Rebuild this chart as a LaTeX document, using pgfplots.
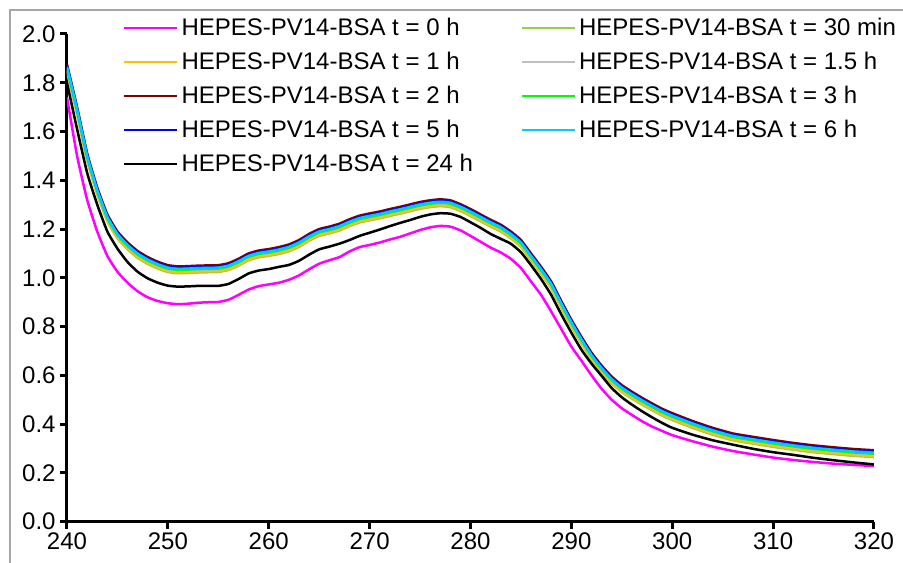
\documentclass[border=0pt]{standalone}
\usepackage{fontspec}
\setmainfont{Liberation Sans}
\usepackage{pgfplots}
\usepackage{pgfplotstable}
\pgfplotsset{compat=1.18}
\definecolor{cM}{HTML}{FF00FF}
\definecolor{cA}{HTML}{92D050}
\definecolor{cB}{HTML}{FFC000}
\definecolor{cC}{HTML}{C0C0C0}
\definecolor{cD}{HTML}{800000}
\definecolor{cE}{HTML}{00FF00}
\definecolor{cF}{HTML}{0000FF}
\definecolor{cG}{HTML}{00CCFF}
\definecolor{bordergray}{HTML}{A6A6A6}

\pgfplotstableread{
x M m30 h1 h15 h2 h3 h5 h6 K
240 1.740 1.847 1.851 1.859 1.875 1.861 1.869 1.865 1.800
241 1.500 1.672 1.676 1.684 1.700 1.686 1.694 1.690 1.610
242 1.320 1.482 1.486 1.494 1.510 1.496 1.504 1.500 1.430
243 1.190 1.342 1.346 1.354 1.370 1.356 1.364 1.360 1.300
244 1.090 1.232 1.236 1.244 1.260 1.246 1.254 1.250 1.190
245 1.025 1.162 1.166 1.174 1.190 1.176 1.184 1.180 1.120
246 0.980 1.117 1.121 1.129 1.145 1.131 1.139 1.135 1.065
247 0.945 1.082 1.086 1.094 1.110 1.096 1.104 1.100 1.025
248 0.920 1.057 1.061 1.069 1.085 1.071 1.079 1.075 0.998
249 0.905 1.038 1.042 1.050 1.066 1.052 1.060 1.056 0.980
250 0.896 1.024 1.028 1.036 1.052 1.038 1.046 1.042 0.968
251 0.892 1.019 1.023 1.031 1.047 1.033 1.041 1.037 0.964
252 0.894 1.020 1.024 1.032 1.048 1.034 1.042 1.038 0.965
253 0.898 1.022 1.026 1.034 1.050 1.036 1.044 1.040 0.967
254 0.900 1.023 1.027 1.035 1.051 1.037 1.045 1.041 0.967
255 0.901 1.024 1.028 1.036 1.052 1.038 1.046 1.042 0.967
256 0.910 1.032 1.036 1.044 1.060 1.046 1.054 1.050 0.975
257 0.930 1.050 1.054 1.062 1.078 1.064 1.072 1.068 0.995
258 0.952 1.072 1.076 1.084 1.100 1.086 1.094 1.090 1.018
259 0.966 1.084 1.088 1.096 1.112 1.098 1.106 1.102 1.030
260 0.973 1.090 1.094 1.102 1.118 1.104 1.112 1.108 1.036
261 0.980 1.098 1.102 1.110 1.126 1.112 1.120 1.116 1.045
262 0.992 1.109 1.113 1.121 1.137 1.123 1.131 1.127 1.053
263 1.010 1.127 1.131 1.139 1.155 1.141 1.149 1.145 1.070
264 1.035 1.152 1.156 1.164 1.180 1.166 1.174 1.170 1.095
265 1.058 1.172 1.176 1.184 1.200 1.186 1.194 1.190 1.117
266 1.072 1.182 1.186 1.194 1.210 1.196 1.204 1.200 1.128
267 1.085 1.194 1.198 1.206 1.222 1.208 1.216 1.212 1.140
268 1.108 1.212 1.216 1.224 1.240 1.226 1.234 1.230 1.155
269 1.126 1.227 1.231 1.239 1.255 1.241 1.249 1.245 1.172
270 1.135 1.236 1.240 1.248 1.264 1.250 1.258 1.254 1.185
271 1.145 1.244 1.248 1.256 1.272 1.258 1.266 1.262 1.198
272 1.157 1.254 1.258 1.266 1.282 1.268 1.276 1.272 1.212
273 1.168 1.263 1.267 1.275 1.291 1.277 1.285 1.281 1.225
274 1.182 1.273 1.277 1.285 1.301 1.287 1.295 1.291 1.237
275 1.196 1.283 1.287 1.295 1.311 1.297 1.305 1.301 1.250
276 1.207 1.290 1.294 1.302 1.318 1.304 1.312 1.308 1.260
277 1.213 1.294 1.298 1.306 1.322 1.308 1.316 1.312 1.265
278 1.210 1.290 1.294 1.302 1.318 1.304 1.312 1.308 1.263
279 1.195 1.274 1.278 1.286 1.302 1.288 1.296 1.292 1.250
280 1.172 1.254 1.258 1.266 1.282 1.268 1.276 1.272 1.228
281 1.148 1.232 1.236 1.244 1.260 1.246 1.254 1.250 1.205
282 1.124 1.210 1.214 1.222 1.238 1.224 1.232 1.228 1.180
283 1.104 1.190 1.194 1.202 1.218 1.204 1.212 1.208 1.160
284 1.078 1.162 1.166 1.174 1.190 1.176 1.184 1.180 1.140
285 1.040 1.127 1.131 1.139 1.155 1.141 1.149 1.145 1.105
286 0.985 1.072 1.076 1.084 1.100 1.086 1.094 1.090 1.052
287 0.930 1.017 1.021 1.029 1.045 1.031 1.039 1.035 0.995
288 0.862 0.957 0.961 0.969 0.985 0.971 0.979 0.975 0.930
289 0.790 0.877 0.881 0.889 0.905 0.891 0.899 0.895 0.850
290 0.718 0.800 0.804 0.812 0.828 0.814 0.822 0.818 0.775
291 0.660 0.730 0.734 0.742 0.758 0.744 0.752 0.748 0.705
292 0.600 0.665 0.669 0.677 0.693 0.679 0.687 0.683 0.648
293 0.545 0.612 0.616 0.624 0.640 0.626 0.634 0.630 0.598
294 0.500 0.567 0.571 0.579 0.595 0.581 0.589 0.585 0.548
295 0.465 0.532 0.536 0.544 0.560 0.546 0.554 0.550 0.510
296 0.438 0.505 0.509 0.517 0.533 0.519 0.527 0.523 0.480
297 0.412 0.480 0.484 0.492 0.508 0.494 0.502 0.498 0.453
298 0.390 0.457 0.461 0.469 0.485 0.471 0.479 0.475 0.428
299 0.372 0.435 0.439 0.447 0.463 0.449 0.457 0.453 0.405
300 0.355 0.417 0.421 0.429 0.445 0.431 0.439 0.435 0.385
302 0.330 0.385 0.389 0.397 0.413 0.399 0.407 0.403 0.357
304 0.308 0.357 0.361 0.369 0.385 0.371 0.379 0.375 0.334
306 0.290 0.334 0.338 0.346 0.362 0.348 0.356 0.352 0.316
308 0.276 0.320 0.324 0.332 0.348 0.334 0.342 0.338 0.299
310 0.263 0.307 0.311 0.319 0.335 0.321 0.329 0.325 0.285
312 0.253 0.295 0.299 0.307 0.323 0.309 0.317 0.313 0.274
314 0.245 0.285 0.289 0.297 0.313 0.299 0.307 0.303 0.262
316 0.238 0.277 0.281 0.289 0.305 0.291 0.299 0.295 0.252
318 0.233 0.270 0.274 0.282 0.298 0.284 0.292 0.288 0.243
320 0.228 0.265 0.269 0.277 0.293 0.279 0.287 0.283 0.235
}\spectra

\begin{document}
\fontsize{12}{14}\selectfont
\begin{tikzpicture}
\useasboundingbox (-33.5pt,-20.15pt) rectangle (418pt,260.85pt);
\draw[line width=0.6pt, color=bordergray] (-28.5pt,-40pt) -- (-28.5pt,255.85pt) -- (460pt,255.85pt);
\begin{axis}[
  at={(0pt,0pt)}, anchor=south west, scale only axis,
  width=403.5pt, height=243.85pt,
  xmin=240, xmax=320, ymin=0, ymax=2,
  axis x line*=bottom, axis y line*=left,
  axis line style={line width=1.5pt, black},
  xtick={240,250,260,270,280,290,300,310,320},
  ytick={0,0.2,0.4,0.6,0.8,1.0,1.2,1.4,1.6,1.8,2.0},
  tick align=outside, major tick length=3.5pt,
  tick style={line width=1.5pt, black},
  minor tick num=0,
  /pgf/number format/assume math mode=true,
  yticklabel style={/pgf/number format/fixed, /pgf/number format/fixed zerofill, /pgf/number format/precision=1, inner sep=0pt, xshift=-2pt, font=\fontsize{12}{14}\selectfont},
  xticklabel style={/pgf/number format/fixed, /pgf/number format/1000 sep={}, inner sep=0pt, yshift=-1.7pt, font=\fontsize{12}{14}\selectfont},
  scaled ticks=false,
  legend cell align=left,
  legend columns=2,
  legend image code/.code={\draw[#1] (0pt,0pt) -- (26.5pt,0pt);},
  legend style={at={(0,1)}, anchor=north west, xshift=28pt, yshift=8.5pt,
    draw=none, fill=none, inner sep=0pt, outer sep=0pt,
    font=\fontsize{12}{14}\selectfont, row sep=6pt,
    nodes={inner xsep=1.5pt, inner ysep=0pt, text height=9pt, text depth=2pt},
    /tikz/every even column/.append style={column sep=22.3pt}},
  every axis plot/.append style={line width=1.25pt, smooth, tension=0.3},
]
\addplot[color=cM] table[x=x, y=M] {\spectra};
\addlegendentry{HEPES-PV14-BSA t = 0 h}
\addplot[color=cA] table[x=x, y=m30] {\spectra};
\addlegendentry{HEPES-PV14-BSA t = 30 min}
\addplot[color=cB] table[x=x, y=h1] {\spectra};
\addlegendentry{HEPES-PV14-BSA t = 1 h}
\addplot[color=cC] table[x=x, y=h15] {\spectra};
\addlegendentry{HEPES-PV14-BSA t = 1.5 h}
\addplot[color=cD] table[x=x, y=h2] {\spectra};
\addlegendentry{HEPES-PV14-BSA t = 2 h}
\addplot[color=cE] table[x=x, y=h3] {\spectra};
\addlegendentry{HEPES-PV14-BSA t = 3 h}
\addplot[color=cF] table[x=x, y=h5] {\spectra};
\addlegendentry{HEPES-PV14-BSA t = 5 h}
\addplot[color=cG] table[x=x, y=h6] {\spectra};
\addlegendentry{HEPES-PV14-BSA t = 6 h}
\addplot[color=black] table[x=x, y=K] {\spectra};
\addlegendentry{HEPES-PV14-BSA t = 24 h}
\end{axis}
\end{tikzpicture}
\end{document}
